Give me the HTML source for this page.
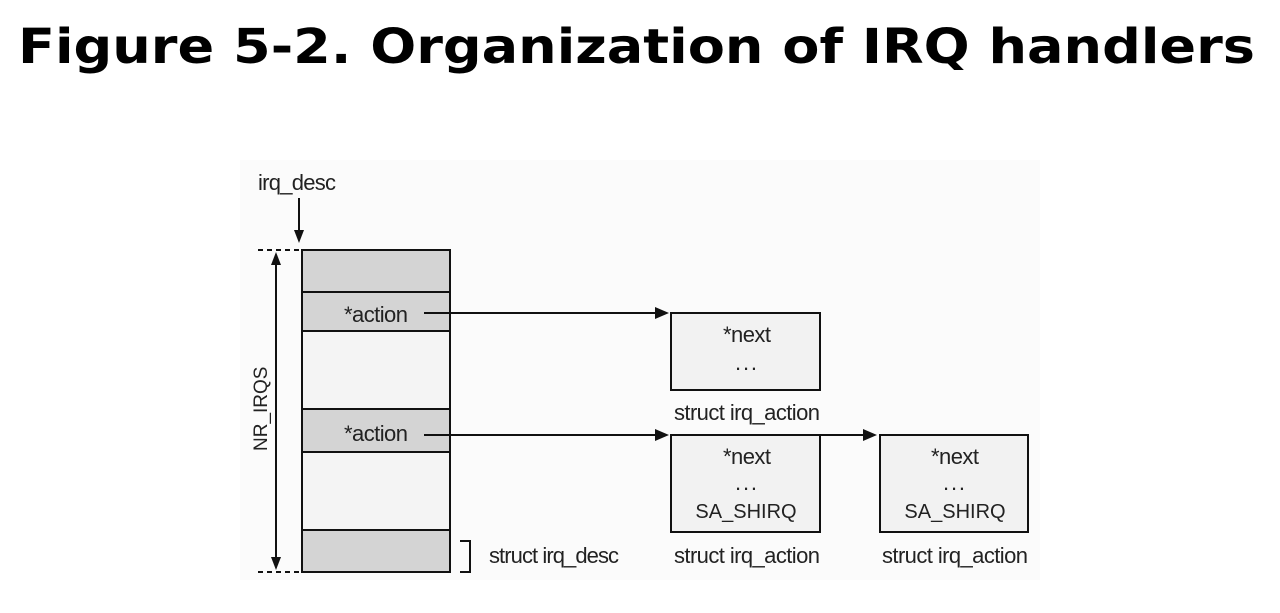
<!DOCTYPE html>
<html><head><meta charset="utf-8"><style>
body{margin:0;background:#fff;width:1280px;height:608px;overflow:hidden}
</style></head><body>
<svg width="1280" height="608" xmlns="http://www.w3.org/2000/svg">
<text x="18" y="63" font-family="DejaVu Sans" font-weight="bold" font-size="48" textLength="1237" lengthAdjust="spacingAndGlyphs">Figure 5-2. Organization of IRQ handlers</text>
<rect x="240" y="160" width="800" height="420" fill="#fbfbfb"/>
<g font-family="Liberation Sans, sans-serif" font-size="22" fill="#222" lengthAdjust="spacingAndGlyphs">
<text x="258" y="190" textLength="78">irq_desc</text>
<line x1="299" y1="198" x2="299" y2="232" stroke="#111" stroke-width="2"/>
<polygon points="294,230 304,230 299,243" fill="#111"/>
<line x1="258" y1="250" x2="302" y2="250" stroke="#111" stroke-width="2" stroke-dasharray="5,4"/>
<line x1="258" y1="572" x2="302" y2="572" stroke="#111" stroke-width="2" stroke-dasharray="5,4"/>
<line x1="276" y1="262" x2="276" y2="560" stroke="#111" stroke-width="2"/>
<polygon points="271,265 281,265 276,252" fill="#111"/>
<polygon points="271,557 281,557 276,570" fill="#111"/>
<text transform="translate(267,451) rotate(-90)" font-size="19">NR_IRQS</text>
<rect x="302" y="250" width="148" height="322" fill="#f4f4f4" stroke="#111" stroke-width="2"/>
<rect x="302" y="250" width="148" height="42" fill="#d4d4d4" stroke="#111" stroke-width="2"/>
<rect x="302" y="292" width="148" height="39" fill="#d4d4d4" stroke="#111" stroke-width="2"/>
<rect x="302" y="409" width="148" height="43" fill="#d4d4d4" stroke="#111" stroke-width="2"/>
<rect x="302" y="530" width="148" height="42" fill="#d4d4d4" stroke="#111" stroke-width="2"/>
<text x="344" y="322" textLength="64">*action</text>
<text x="344" y="441" textLength="64">*action</text>
<line x1="424" y1="313" x2="658" y2="313" stroke="#111" stroke-width="2"/>
<polygon points="655,307 655,319 669,313" fill="#111"/>
<line x1="424" y1="435" x2="658" y2="435" stroke="#111" stroke-width="2"/>
<polygon points="655,429 655,441 669,435" fill="#111"/>
<line x1="820" y1="435" x2="866" y2="435" stroke="#111" stroke-width="2"/>
<polygon points="863,429 863,441 877,435" fill="#111"/>
<polyline points="460,541 470,541 470,572 460,572" fill="none" stroke="#111" stroke-width="2"/>
<text x="489" y="563" textLength="130">struct irq_desc</text>
<rect x="671" y="313" width="149" height="77" fill="#f2f2f2" stroke="#111" stroke-width="2"/>
<text x="723" y="342" textLength="48">*next</text>
<text x="735" y="370" textLength="22">...</text>
<text x="674" y="420" textLength="146">struct irq_action</text>
<rect x="671" y="435" width="149" height="97" fill="#f2f2f2" stroke="#111" stroke-width="2"/>
<text x="723" y="464" textLength="48">*next</text>
<text x="735" y="490" textLength="22">...</text>
<text x="746" y="518" font-size="20" text-anchor="middle">SA_SHIRQ</text>
<text x="674" y="563" textLength="146">struct irq_action</text>
<rect x="880" y="435" width="148" height="97" fill="#f2f2f2" stroke="#111" stroke-width="2"/>
<text x="931" y="464" textLength="48">*next</text>
<text x="943" y="490" textLength="22">...</text>
<text x="955" y="518" font-size="20" text-anchor="middle">SA_SHIRQ</text>
<text x="882" y="563" textLength="146">struct irq_action</text>
</g>
</svg>
</body></html>
